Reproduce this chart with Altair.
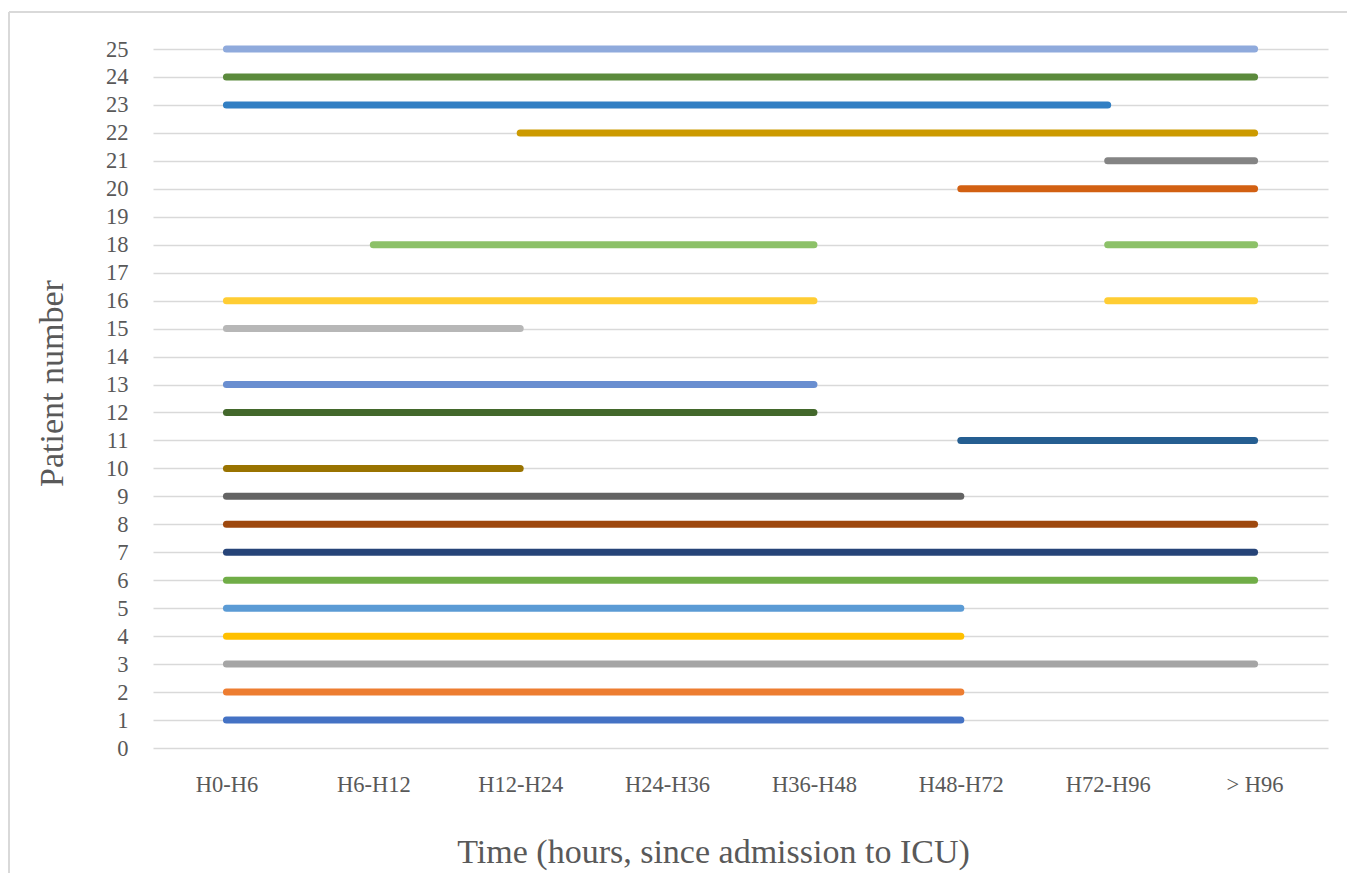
import altair as alt
import pandas as pd

categories = ["H0-H6", "H6-H12", "H12-H24", "H24-H36", "H36-H48", "H48-H72", "H72-H96", "> H96"]

# segments: patient number, first category index, last category index
seg_patient = [1, 2, 3, 4, 5, 6, 7, 8, 9, 10, 11, 12, 13, 15, 16, 16, 18, 18, 20, 21, 22, 23, 24, 25]
seg_start   = [0, 0, 0, 0, 0, 0, 0, 0, 0, 0,  5,  0,  0,  0,  0,  6,  1,  6,  5,  6,  2,  0,  0,  0]
seg_end     = [5, 5, 7, 5, 5, 7, 7, 7, 5, 2,  7,  4,  4,  2,  4,  7,  4,  7,  7,  7,  7,  6,  7,  7]

patient_ids = list(range(1, 26))
patient_colors = [
    "#4472C4", "#ED7D31", "#A5A5A5", "#FFC000", "#5B9BD5", "#70AD47",
    "#264478", "#9E480E", "#636363", "#997300", "#255E91", "#43682B",
    "#698ED0", "#F1975A", "#B7B7B7", "#FFCD33", "#7CAFDD", "#8CC168",
    "#335AA1", "#D26012", "#848484", "#CC9A00", "#327FC3", "#5B8A3C",
    "#8FAADC",
]

rows = []
for i, (p, s, e) in enumerate(zip(seg_patient, seg_start, seg_end)):
    for k in range(s, e + 1):
        rows.append({"seg": i, "patient": p, "pid": str(p), "time": categories[k], "order": k})
df = pd.DataFrame(rows)

FONT = "Palatino Linotype, Book Antiqua, Palatino, Liberation Serif, serif"
GRID = "#D9D9D9"

lines = alt.Chart(df).mark_line(strokeWidth=7, strokeCap="round", strokeJoin="round").encode(
    x=alt.X("time:N", sort=categories,
            scale=alt.Scale(type="point", domain=categories, padding=0.5),
            axis=alt.Axis(title="Time (hours, since admission to ICU)", labelAngle=0,
                          domain=False, ticks=False, grid=False,
                          labelPadding=25, titlePadding=40, titleX=560)),
    y=alt.Y("patient:Q", scale=alt.Scale(domain=[0, 25], nice=False, zero=True),
            axis=alt.Axis(title="Patient number", values=list(range(26)), format="d",
                          domain=False, ticks=False, grid=True, gridColor=GRID, gridWidth=1.5,
                          labelPadding=25, titlePadding=36, titleY=334)),
    color=alt.Color("pid:N", scale=alt.Scale(domain=[str(p) for p in patient_ids], range=patient_colors),
                    legend=None),
    detail="seg:N",
    order="order:Q",
)

frame_data = alt.Data(values=[{"a": 1}])
left_border = alt.Chart(frame_data).mark_rule(color=GRID, strokeWidth=2).encode(
    x=alt.value(-144), y=alt.value(-37), y2=alt.value(900))
top_border = alt.Chart(frame_data).mark_rule(color=GRID, strokeWidth=2).encode(
    x=alt.value(-144), x2=alt.value(1400), y=alt.value(-37))

chart = alt.layer(left_border, top_border, lines).properties(
    width=1175, height=699,
    autosize=alt.AutoSizeParams(type="none"),
    padding={"left": 145, "top": 41, "right": 19, "bottom": 125},
).configure(font=FONT).configure_view(stroke=None).configure_axis(
    labelFont=FONT, titleFont=FONT, labelColor="#595959", titleColor="#595959",
    labelFontSize=22.5, titleFontSize=34, titleFontWeight="normal",
)

chart.save("out.html", embed_options={"renderer": "svg", "actions": False})
